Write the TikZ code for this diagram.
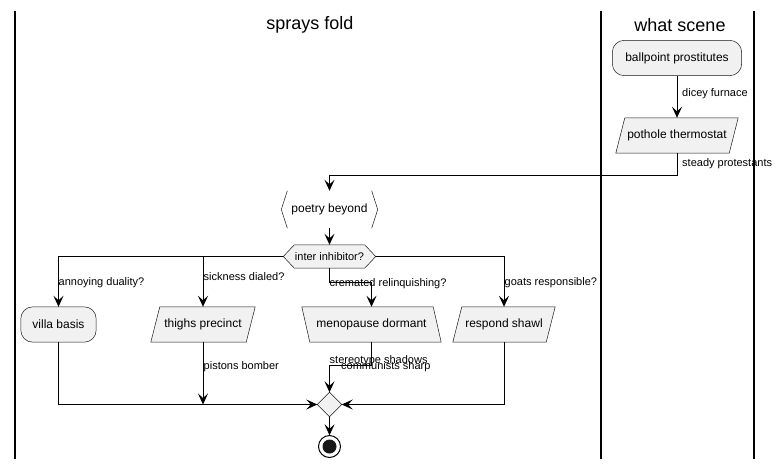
\documentclass[tikz,border=0pt]{standalone}
\usepackage{fontspec}
\setmainfont{Liberation Sans}
\usetikzlibrary{arrows.meta,calc,backgrounds}
\definecolor{actfill}{HTML}{F1F1F1}
\definecolor{actline}{HTML}{181818}
\begin{document}
\begin{tikzpicture}[x=1pt,y=-1pt,
  every node/.style={font=\fontsize{12}{14}\selectfont, inner sep=0pt},
  box/.style={minimum height=35pt},
  lbl/.style={font=\fontsize{11}{13}\selectfont, anchor=west, inner sep=0pt},
  shp/.style={fill=actfill, draw=actline, line width=0.5pt},
  arr/.style={line width=1pt, -{Stealth[length=11pt,width=10pt,inset=4.5pt]}},
  lane/.style={line width=1.5pt}]
\useasboundingbox (0,0) rectangle (783,469);
% lanes
\draw[lane] (15,11) -- (15,459);
\draw[lane] (601,11) -- (601,459);
\draw[lane] (754,11) -- (754,459);
% titles
\node[font=\fontsize{18}{20}\selectfont] (t1) at (310,25) {sprays fold};
\node[font=\fontsize{18}{20}\selectfont] (t2) at (680,25) {what scene};
% nodes
\node[box, minimum width=129pt] (ball) at (677,58) {ballpoint prostitutes};
\node[box, minimum width=122pt] (pot) at (677,135.5) {pothole thermostat};
\node[minimum width=96pt, minimum height=37pt] (poe) at (329.5,209.5) {poetry beyond};
\node[font=\fontsize{11}{13}\selectfont, minimum width=92pt, minimum height=23pt] (hex) at (329.5,256.5) {inter inhibitor?};
\node[box, minimum width=75pt] (villa) at (58.5,324.5) {villa basis};
\node[box, minimum width=104pt] (thighs) at (203,324.5) {thighs precinct};
\node[box, minimum width=139pt] (meno) at (371.5,324.5) {menopause dormant};
\node[box, minimum width=102pt] (shawl) at (504,324.5) {respond shawl};
\node[minimum width=24pt, minimum height=24pt] (merge) at (329.5,404.5) {};
\node[circle, minimum size=22pt] (stop) at (329.5,446.5) {};
% shapes
\begin{scope}[on background layer]
\draw[shp, rounded corners=12pt] (ball.north west) rectangle (ball.south east);
\draw[shp, rounded corners=12pt] (villa.north west) rectangle (villa.south east);
\draw[shp] ($(pot.north west)+(9,0)$) -- (pot.north east) -- ($(pot.south east)+(-9,0)$) -- (pot.south west) -- cycle;
\draw[shp] ($(thighs.north west)+(9,0)$) -- (thighs.north east) -- ($(thighs.south east)+(-9,0)$) -- (thighs.south west) -- cycle;
\draw[shp] ($(shawl.north west)+(9,0)$) -- (shawl.north east) -- ($(shawl.south east)+(-9,0)$) -- (shawl.south west) -- cycle;
\draw[shp] (meno.north west) -- ($(meno.north east)+(-8,0)$) -- (meno.south east) -- ($(meno.south west)+(8,0)$) -- cycle;
\draw[shp] (hex.west) -- ($(hex.north west)+(11,0)$) -- ($(hex.north east)+(-11,0)$) -- (hex.east) -- ($(hex.south east)+(-11,0)$) -- ($(hex.south west)+(11,0)$) -- cycle;
\draw[shp] (merge.north) -- (merge.east) -- (merge.south) -- (merge.west) -- cycle;
\draw[actline, line width=0.5pt] ($(poe.north west)+(6,0)$) -- (poe.west) -- ($(poe.south west)+(6,0)$);
\draw[actline, line width=0.5pt] ($(poe.north east)+(-6,0)$) -- (poe.east) -- ($(poe.south east)+(-6,0)$);
\end{scope}
\draw[line width=1pt] (stop) circle (11pt);
\fill[actline] (stop) circle (7pt);
% connectors
\draw[arr] (ball.south) -- (pot.north);
\draw[arr] (pot.south) -- ++(0,22) -| (poe.north);
\draw[arr] (poe.south) -- (hex.north);
\draw[arr] (hex.west) -| (villa.north);
\draw[arr] (hex.west -| thighs.north) -- (thighs.north);
\draw[arr] (hex.south) -- ++(0,14) -| (meno.north);
\draw[arr] (hex.east) -| (shawl.north);
\draw[arr] (villa.south) |- (merge.west);
\draw[arr] (thighs.south) -- (thighs.south |- merge.west);
\draw[arr] (meno.south) -- ++(0,23) -| (merge.north);
\draw[arr] (shawl.south) |- (merge.east);
\draw[arr] (merge.south) -- (stop.north);
% labels
\node[lbl] (l1) at (682,94) {dicey furnace};
\node[lbl] (l2) at (682,164) {steady protestants};
\node[lbl] (l3) at (58.5,283) {annoying duality?};
\node[lbl] (l4) at (203.5,277) {sickness dialed?};
\node[lbl] (l5) at (329.5,284) {cremated relinquishing?};
\node[lbl] (l6) at (504.5,283) {goats responsible?};
\node[lbl] (l7) at (203.5,367) {pistons bomber};
\node[lbl] (l8) at (329.5,361) {stereotype shadows};
\node[lbl] (l9) at (341,367) {communists sharp};
\end{tikzpicture}
\end{document}
